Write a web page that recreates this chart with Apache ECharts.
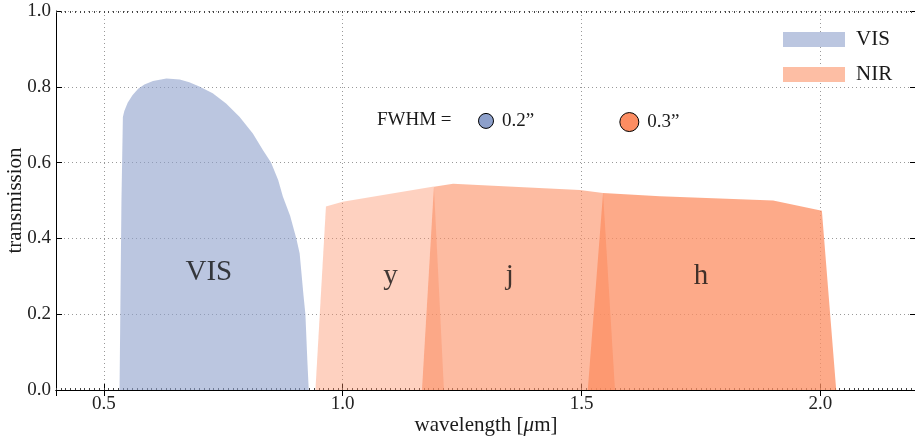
<!DOCTYPE html>
<html>
<head>
<meta charset="utf-8">
<script src="https://cdn.jsdelivr.net/npm/echarts@6/dist/echarts.min.js"></script>
<style>
  html, body { margin: 0; padding: 0; background: #fff; }
  #chart { width: 915px; height: 439px; }
</style>
</head>
<body>
<div id="chart"></div>
<script>
// VIS transmission curve (wavelength, transmission)
var visX = [0.533, 0.537, 0.540, 0.543, 0.550, 0.560, 0.572, 0.585, 0.603, 0.631, 0.659, 0.679, 0.700,
            0.728, 0.756, 0.784, 0.812, 0.833, 0.850, 0.865, 0.875, 0.890, 0.903, 0.910, 0.918,
            0.922, 0.926, 0.929];
var visY = [0.0, 0.50, 0.72, 0.736, 0.758, 0.778, 0.795, 0.806, 0.815, 0.822, 0.819, 0.812, 0.801,
            0.783, 0.756, 0.721, 0.677, 0.633, 0.600, 0.554, 0.510, 0.460, 0.400, 0.360, 0.250,
            0.200, 0.080, 0.0];

// NIR bands
var yBandX = [0.943, 0.965, 1.000, 1.191, 1.212];
var yBandY = [0.0, 0.484, 0.497, 0.537, 0.0];
var jBandX = [1.166, 1.191, 1.231, 1.283, 1.496, 1.545, 1.570];
var jBandY = [0.0, 0.536, 0.544, 0.541, 0.528, 0.520, 0.0];
var hBandX = [1.513, 1.545, 1.664, 1.901, 2.003, 2.033];
var hBandY = [0.0, 0.520, 0.511, 0.500, 0.473, 0.0];

// band labels
var bandNames = ['VIS', 'y', 'j', 'h'];
var bandLabelX = [0.72, 1.10, 1.35, 1.75];
var bandLabelY = [0.31, 0.30, 0.30, 0.30];

// FWHM markers
var fwhmText = ['0.2\u201D', '0.3\u201D'];
var fwhmX = [1.30, 1.60];
var fwhmY = [0.71, 0.707];
var fwhmSize = [15, 19];
var fwhmColor = ['#8DA0CB', '#FC8D62'];

function pairs(xs, ys) {
    return xs.map(function (x, i) { return [x, ys[i]]; });
}

var serif = '"Liberation Serif", "DejaVu Serif", serif';

var chart = echarts.init(document.getElementById('chart'));

function bandSeries(name, xs, ys, color, opacity) {
    return {
        name: name,
        type: 'line',
        data: pairs(xs, ys),
        showSymbol: false,
        symbol: 'none',
        lineStyle: { width: 0 },
        areaStyle: { color: color, opacity: opacity },
        silent: true,
        z: 2
    };
}

var option = {
    animation: false,
    grid: { left: 56, top: 11, width: 860, height: 379, containLabel: false, outerBoundsMode: 'none' },
    legend: {
        orient: 'vertical',
        left: 783,
        top: 29,
        padding: 0,
        itemWidth: 62,
        itemHeight: 15,
        itemGap: 14,
        icon: 'rect',
        textStyle: { fontFamily: serif, fontSize: 21, color: '#1a1a1a', padding: [0, 0, 0, 6] },
        data: [
            { name: 'VIS', itemStyle: { color: '#bbc6e0', borderWidth: 0 } },
            { name: 'NIR', itemStyle: { color: '#fdbea4', borderWidth: 0 } }
        ]
    },
    graphic: [{
        type: 'text',
        left: 377,
        top: 111,
        z: 20,
        style: { text: 'FWHM =', font: '19px ' + serif, fill: '#1a1a1a' }
    }],
    xAxis: [
        {
            type: 'value', position: 'bottom', min: 0.4, max: 2.2, splitNumber: 4,
            axisLine: { lineStyle: { color: '#000', width: 1 } },
            axisTick: { inside: true, length: 6, lineStyle: { color: '#000' } },
            axisLabel: {
                fontFamily: serif, fontSize: 19, color: '#222', margin: 5,
                showMinLabel: false, showMaxLabel: false,
                formatter: function (v) { return v.toFixed(1); }
            },
            splitLine: { show: true, lineStyle: { color: '#999', type: [1, 3], width: 1 } },
            name: 'wavelength [{i|\u03BC}m]',
            nameLocation: 'middle',
            nameMoveOverlap: false,
            nameGap: 25,
            nameTextStyle: {
                fontFamily: serif, fontSize: 21, color: '#1a1a1a',
                rich: { i: { fontFamily: serif, fontSize: 21, fontStyle: 'italic', color: '#1a1a1a' } }
            }
        },
        {
            type: 'value', position: 'top', min: 0.4, max: 2.2, splitNumber: 4,
            axisLine: { lineStyle: { color: '#000', width: 1 } },
            axisTick: { inside: true, length: 6, lineStyle: { color: '#000' } },
            axisLabel: { show: false },
            splitLine: { show: false }
        },
        {
            type: 'value', position: 'bottom', min: 0.4, max: 2.2, interval: 0.01,
            axisLine: { show: false },
            axisTick: { inside: true, length: 2, lineStyle: { color: '#444' } },
            axisLabel: { show: false },
            splitLine: { show: false }
        },
        {
            type: 'value', position: 'top', min: 0.4, max: 2.2, interval: 0.01,
            axisLine: { show: false },
            axisTick: { inside: true, length: 2, lineStyle: { color: '#444' } },
            axisLabel: { show: false },
            splitLine: { show: false }
        }
    ],
    yAxis: [
        {
            type: 'value', position: 'left', min: 0, max: 1, interval: 0.2,
            axisLine: { show: true, lineStyle: { color: '#000', width: 1 } },
            axisTick: { show: true, inside: true, length: 6, lineStyle: { color: '#000' } },
            axisLabel: {
                fontFamily: serif, fontSize: 19, color: '#222', margin: 5,
                formatter: function (v) { return v.toFixed(1); }
            },
            splitLine: { show: true, lineStyle: { color: '#999', type: [1, 3], width: 1 } },
            name: 'transmission',
            nameLocation: 'middle',
            nameRotate: 90,
            nameMoveOverlap: false,
            nameGap: 30,
            nameTextStyle: { fontFamily: serif, fontSize: 21, color: '#1a1a1a' }
        },
        {
            type: 'value', position: 'right', min: 0, max: 1, interval: 0.2,
            axisLine: { show: true, lineStyle: { color: '#000', width: 1 } },
            axisTick: { show: true, inside: true, length: 6, lineStyle: { color: '#000' } },
            axisLabel: { show: false },
            splitLine: { show: false }
        }
    ],
    series: [
        bandSeries('VIS', visX, visY, '#8DA0CB', 0.6),
        bandSeries('NIR', yBandX, yBandY, '#FC8D62', 0.4),
        bandSeries('NIR', jBandX, jBandY, '#FC8D62', 0.6),
        bandSeries('NIR', hBandX, hBandY, '#FC8D62', 0.75),
        {
            name: 'bands',
            type: 'scatter',
            symbolSize: 0,
            silent: true,
            z: 10,
            zlevel: 1,
            data: bandNames.map(function (n, i) { return { name: n, value: [bandLabelX[i], bandLabelY[i]] }; }),
            label: {
                show: true, position: 'inside', formatter: '{b}',
                fontFamily: serif, fontSize: 29, color: '#111'
            }
        },
        {
            name: 'fwhm',
            type: 'scatter',
            silent: true,
            z: 10,
            zlevel: 1,
            data: fwhmText.map(function (t, i) {
                return {
                    name: t,
                    value: [fwhmX[i], fwhmY[i]],
                    symbolSize: fwhmSize[i],
                    itemStyle: { color: fwhmColor[i], opacity: 1, borderColor: '#000', borderWidth: 1 }
                };
            }),
            label: {
                show: true, position: 'right', distance: 8, formatter: '{b}',
                fontFamily: serif, fontSize: 19, color: '#1a1a1a'
            }
        }
    ]
};

chart.setOption(option);
</script>
</body>
</html>
